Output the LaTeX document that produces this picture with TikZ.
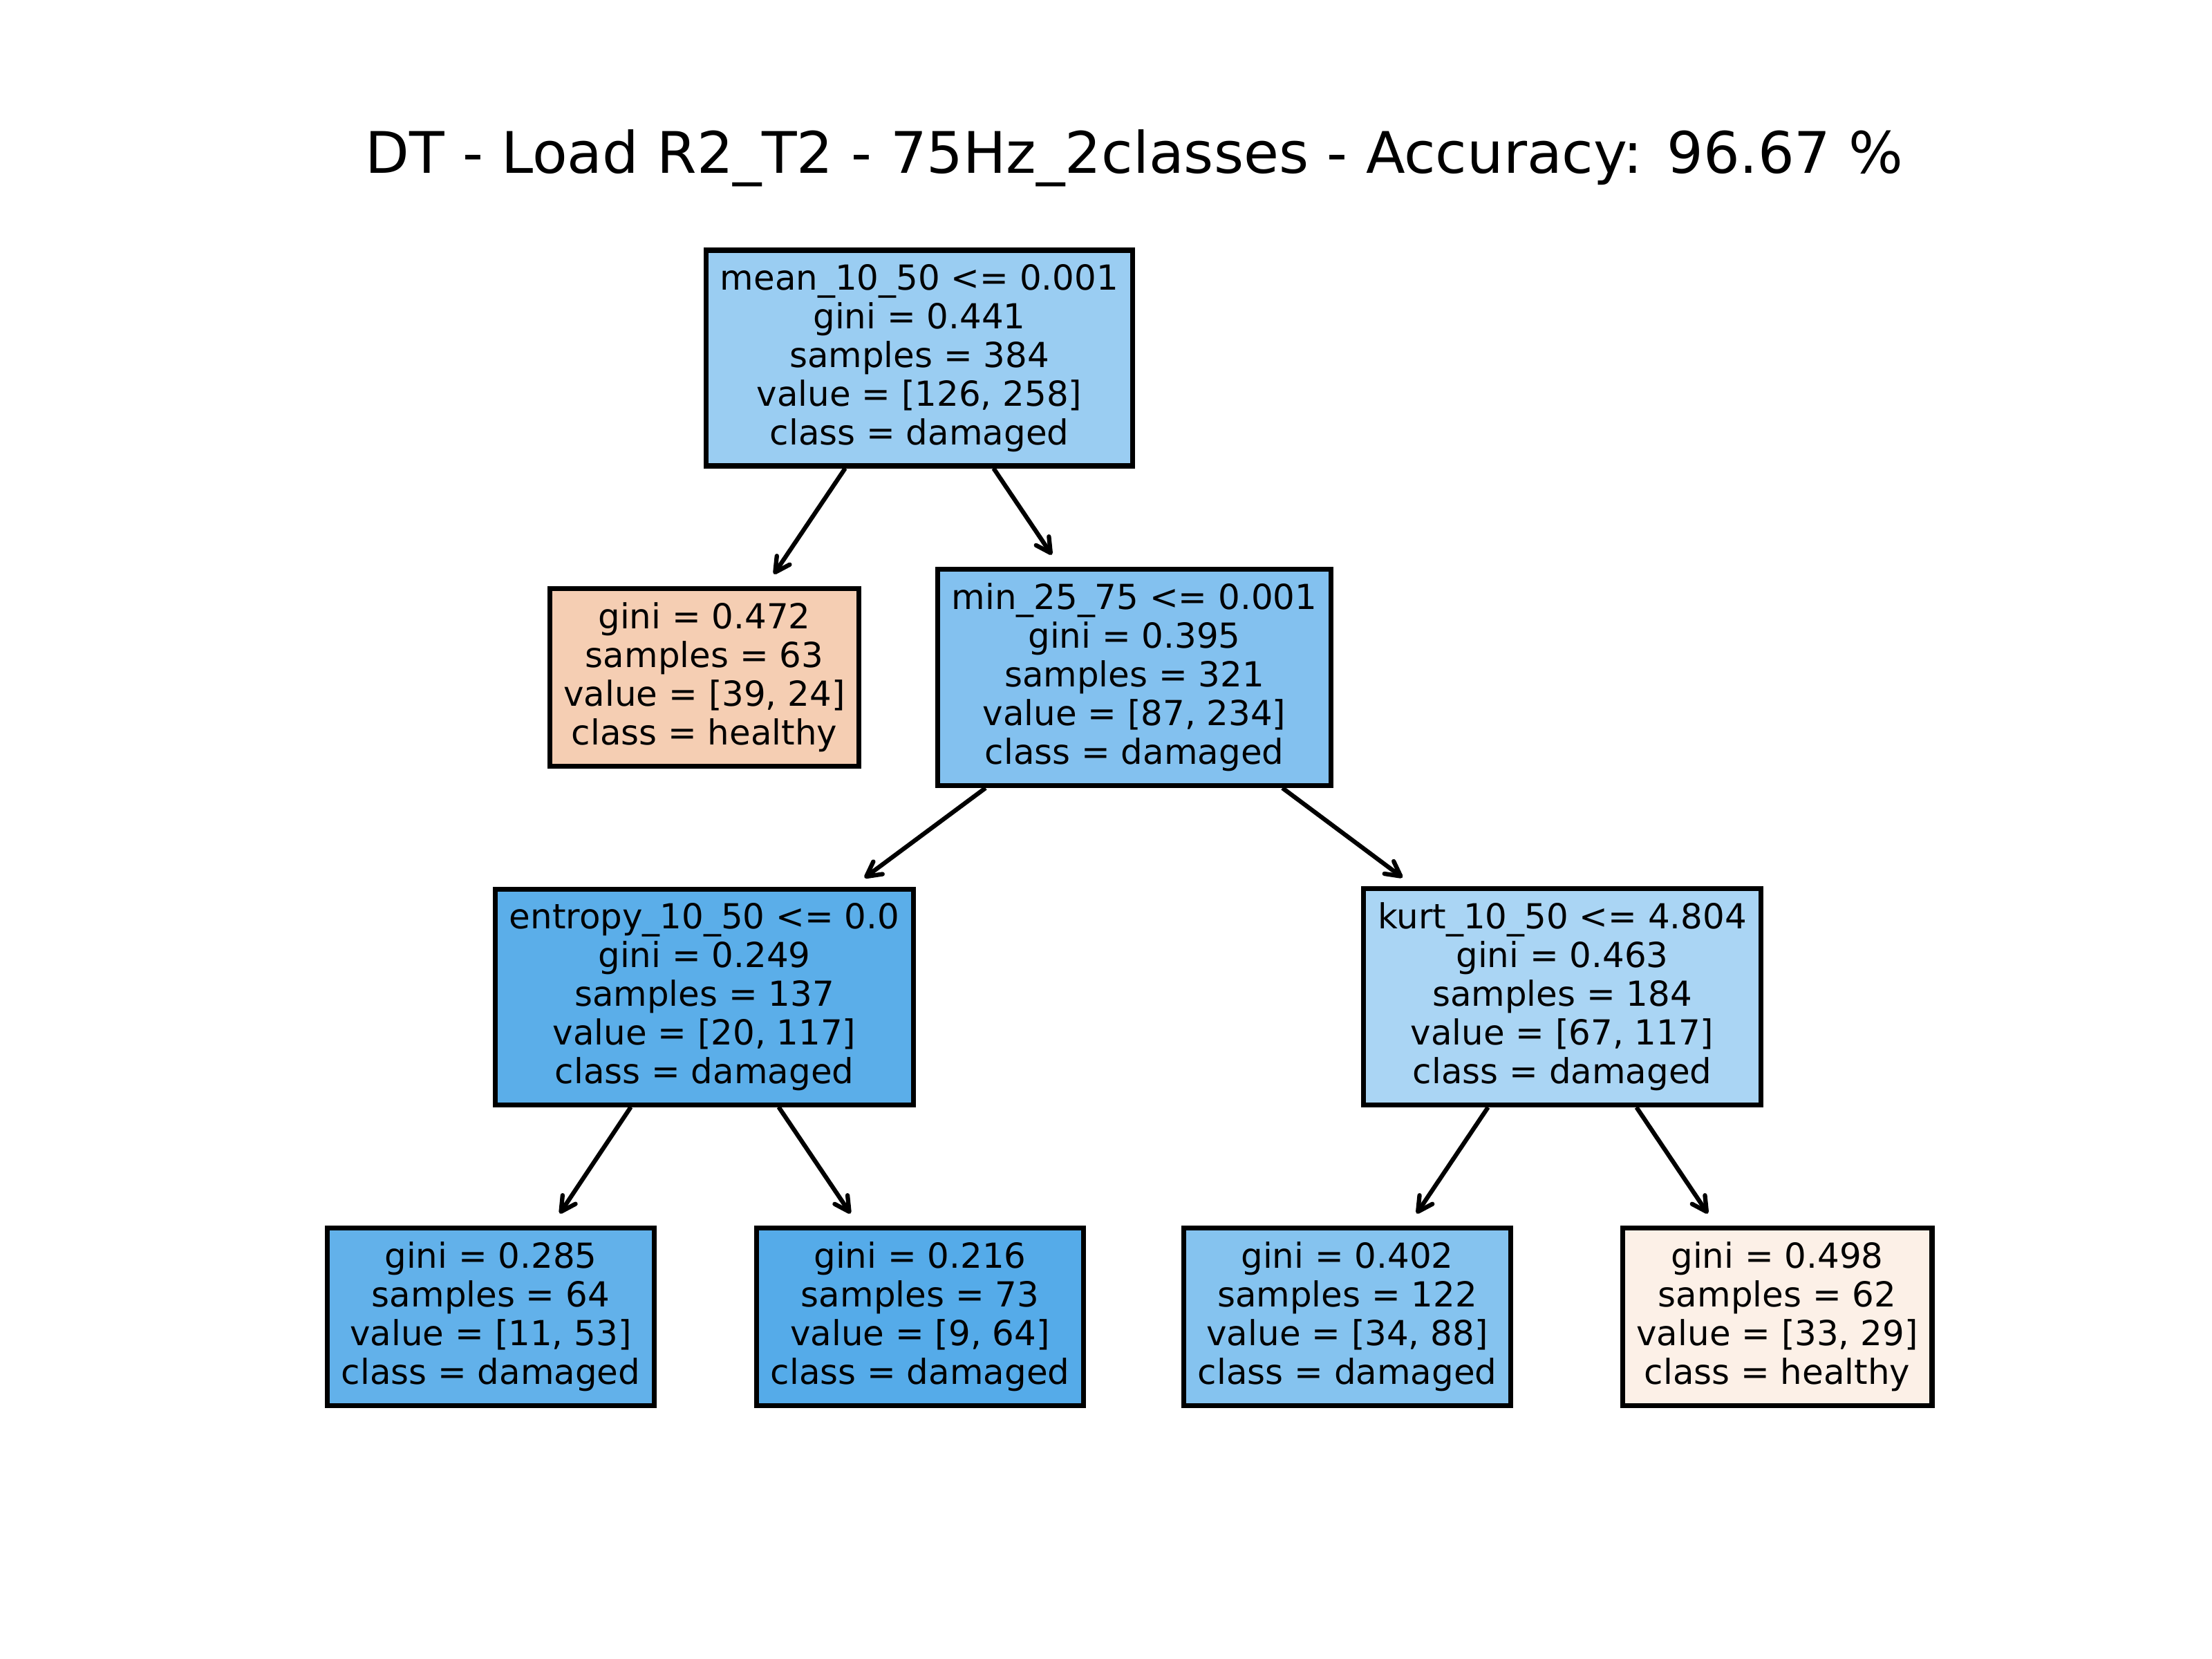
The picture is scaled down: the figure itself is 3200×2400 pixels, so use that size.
\documentclass[tikz,border=0pt]{standalone}
\usepackage{fontspec}
\setmainfont{DejaVu Sans}
\usetikzlibrary{arrows.meta}
\definecolor{fillR}{RGB}{154,205,242}
\definecolor{fillH}{RGB}{245,206,179}
\definecolor{fillM}{RGB}{131,193,239}
\definecolor{fillE}{RGB}{91,174,233}
\definecolor{fillK}{RGB}{170,213,244}
\definecolor{fillA}{RGB}{98,177,234}
\definecolor{fillB}{RGB}{85,171,233}
\definecolor{fillC}{RGB}{133,195,239}
\definecolor{fillD}{RGB}{252,240,231}

\begin{document}
\begin{tikzpicture}[x=0.005cm, y=-0.005cm,
    box/.style={draw, line width=1pt, align=center, inner sep=2.9pt,
       font=\fontsize{7.1pt}{7.97pt}\selectfont},
    arr/.style={line width=0.9pt, shorten >=3pt,
       -{Straight Barb[length=3pt, width=3.2pt, round]}}]
    % page frame, units of pixels of the 3200 x 2400 picture
    \useasboundingbox (0,0) rectangle (3200,2400);
    \node[anchor=base, font=\fontsize{11.8pt}{14pt}\selectfont] (T) at (1641,251)
       {DT - Load R2\_T2 - 75Hz\_2classes - Accuracy: 96.67 \%};
    % Syntax: \node[box, fill=colour] (name) at (x, y) {lines};
    \node[box, fill=fillR] (N0) at (1330,518) {mean\_10\_50 <= 0.001\\gini = 0.441\\samples = 384\\value = [126, 258]\\class = damaged};
    \node[box, fill=fillH] (N1) at (1019,980) {gini = 0.472\\samples = 63\\value = [39, 24]\\class = healthy};
    \node[box, fill=fillM] (N2) at (1641,980) {min\_25\_75 <= 0.001\\gini = 0.395\\samples = 321\\value = [87, 234]\\class = damaged};
    \node[box, fill=fillE] (N3) at (1019,1442) {entropy\_10\_50 <= 0.0\\gini = 0.249\\samples = 137\\value = [20, 117]\\class = damaged};
    \node[box, fill=fillA] (N4) at (710,1905) {gini = 0.285\\samples = 64\\value = [11, 53]\\class = damaged};
    \node[box, fill=fillB] (N5) at (1331,1905) {gini = 0.216\\samples = 73\\value = [9, 64]\\class = damaged};
    \node[box, fill=fillK] (N6) at (2260,1442) {kurt\_10\_50 <= 4.804\\gini = 0.463\\samples = 184\\value = [67, 117]\\class = damaged};
    \node[box, fill=fillC] (N7) at (1949,1905) {gini = 0.402\\samples = 122\\value = [34, 88]\\class = damaged};
    \node[box, fill=fillD] (N8) at (2571,1905) {gini = 0.498\\samples = 62\\value = [33, 29]\\class = healthy};
    \draw[arr] (N0) -- (N1);
    \draw[arr] (N0) -- (N2);
    \draw[arr] (N2) -- (N3);
    \draw[arr] (N2) -- (N6);
    \draw[arr] (N3) -- (N4);
    \draw[arr] (N3) -- (N5);
    \draw[arr] (N6) -- (N7);
    \draw[arr] (N6) -- (N8);
\end{tikzpicture}
\end{document}
